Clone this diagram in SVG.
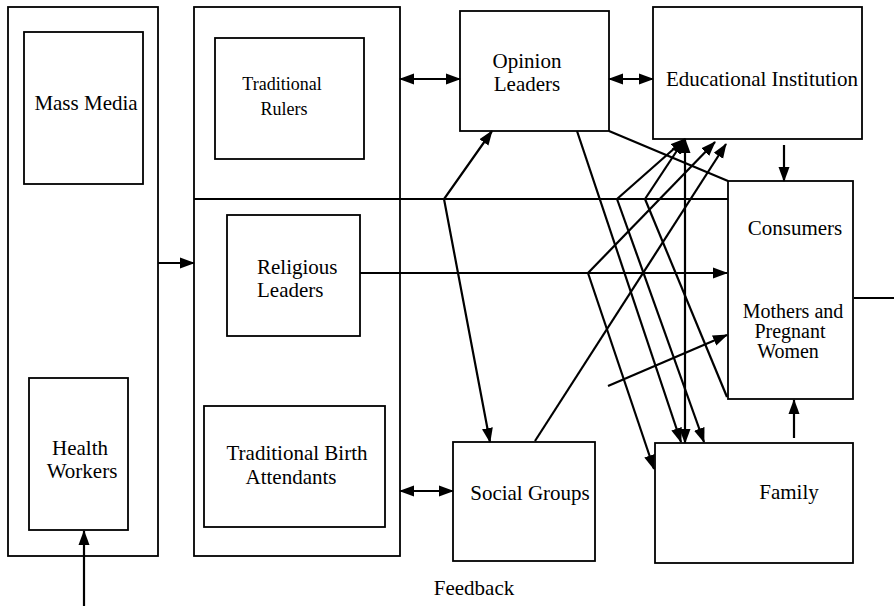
<svg xmlns="http://www.w3.org/2000/svg" width="894" height="606" viewBox="0 0 894 606">
<style>
.box{fill:none;stroke:#000;stroke-width:1.8}
.c{fill:none;stroke:#000;stroke-width:2.2}
text{font-family:"Liberation Serif","Times New Roman",serif;font-size:21px;fill:#000}
.sm{font-size:18px}
.t{font-size:20px}
.m{text-anchor:middle}
</style>
<defs>
<marker id="a" markerUnits="userSpaceOnUse" markerWidth="15" markerHeight="12" refX="14" refY="6" orient="auto-start-reverse">
<path d="M0,0.5 L15,6 L0,11.5 z" fill="#000"/>
</marker>
</defs>
<rect width="894" height="606" fill="#fff"/>
<g id="left-column"><rect class="box" x="8" y="7" width="150" height="549"/></g>
<g id="mass-media"><rect class="box" x="24" y="32" width="119" height="152"/><text x="86" y="110" class="m">Mass Media</text></g>
<g id="health-workers"><rect class="box" x="29" y="378" width="99" height="152"/><text x="80" y="455" class="m">Health</text><text x="82" y="478" class="m">Workers</text></g>
<g id="middle-column"><rect class="box" x="194" y="7" width="206" height="549"/></g>
<g id="traditional-rulers"><rect class="box" x="215" y="38" width="149" height="121"/><text x="282" y="90" class="m sm">Traditional</text><text x="284" y="115" class="m sm">Rulers</text></g>
<g id="religious-leaders"><rect class="box" x="227" y="215" width="133" height="121"/><text x="257" y="274">Religious</text><text x="257" y="297">Leaders</text></g>
<g id="tba"><rect class="box" x="204" y="406" width="181" height="121"/><text x="297" y="460" class="m">Traditional Birth</text><text x="291" y="484" class="m">Attendants</text></g>
<g id="opinion-leaders"><rect class="box" x="460" y="11" width="149" height="120"/><text x="527" y="68" class="m">Opinion</text><text x="527" y="91" class="m">Leaders</text></g>
<g id="educational-institution"><rect class="box" x="653" y="7" width="209" height="132"/><text x="762" y="86" class="m">Educational Institution</text></g>
<g id="consumers"><rect class="box" x="728" y="181" width="125" height="218"/><text x="795" y="235" class="m">Consumers</text><text x="793" y="318" class="m t">Mothers and</text><text x="790" y="338" class="m t">Pregnant</text><text x="788" y="358" class="m t">Women</text></g>
<g id="social-groups"><rect class="box" x="453" y="442" width="142" height="119"/><text x="530" y="500" class="m">Social Groups</text></g>
<g id="family"><rect class="box" x="655" y="443" width="198" height="120"/><text x="789" y="499" class="m">Family</text></g>
<g id="feedback-label"><text x="474" y="595" class="m">Feedback</text></g>
<g id="connectors">
<path class="c" d="M84,606 V531" marker-end="url(#a)"/>
<path class="c" d="M158,263 H194" marker-end="url(#a)"/>
<path class="c" d="M400,79 H460" marker-start="url(#a)" marker-end="url(#a)"/>
<path class="c" d="M609,79 H653" marker-start="url(#a)" marker-end="url(#a)"/>
<path class="c" d="M784,145 V181" marker-end="url(#a)"/>
<path class="c" d="M794,438 V400" marker-end="url(#a)"/>
<path class="c" d="M854,298 H894"/>
<path class="c" d="M400,491 H453" marker-start="url(#a)" marker-end="url(#a)"/>
<path class="c" d="M194,199 H728"/>
<path class="c" d="M360,273 H727" marker-end="url(#a)"/>
<path class="c" d="M492,131 L444,199 L490,442" marker-start="url(#a)" marker-end="url(#a)"/>
<path class="c" d="M577,131 L681,442" marker-end="url(#a)"/>
<path class="c" d="M609,131 L728,181"/>
<path class="c" d="M617,199 L685,139" marker-end="url(#a)"/>
<path class="c" d="M645,199 L684,140" marker-end="url(#a)"/>
<path class="c" d="M617,199 L704,442" marker-end="url(#a)"/>
<path class="c" d="M645,199 L727,397"/>
<path class="c" d="M685,139 V443" marker-start="url(#a)" marker-end="url(#a)"/>
<path class="c" d="M588,273 L715,142" marker-end="url(#a)"/>
<path class="c" d="M588,273 L654,469" marker-end="url(#a)"/>
<path class="c" d="M535,441 L726,144" marker-end="url(#a)"/>
<path class="c" d="M608,386 L727,335" marker-end="url(#a)"/>
</g>
</svg>
